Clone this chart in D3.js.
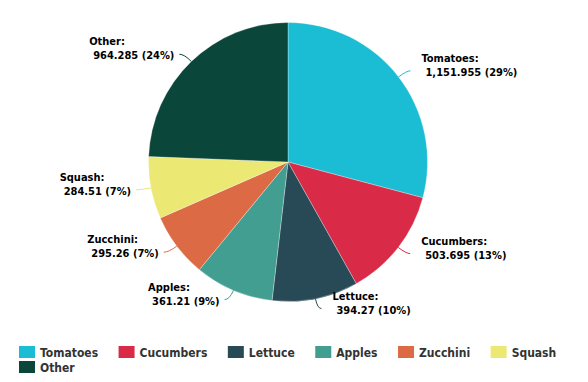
<!DOCTYPE html>
<html>
<head>
<meta charset="utf-8">
<script src="https://cdn.jsdelivr.net/npm/d3@7"></script>
<style>
  body { margin: 0; background: #fff; }
  svg { display: block; }
  text { font-family: "DejaVu Sans Condensed", "DejaVu Sans", sans-serif; font-stretch: condensed; }
</style>
</head>
<body>
<div id="chart"></div>
<script>
// DATA
const categories = ["Tomatoes", "Cucumbers", "Lettuce", "Apples", "Zucchini", "Squash", "Other"];
const values = [1151.955, 503.695, 394.27, 361.21, 295.26, 284.51, 964.285];
const labelValues = ["1,151.955", "503.695", "394.27", "361.21", "295.26", "284.51", "964.285"];
const colors = ["#1bbdd4", "#d92b48", "#284a57", "#419e91", "#db6a45", "#ebe874", "#0b463a"];

const W = 588, H = 382;
const cx = 288, cy = 162, r = 139.5;

const svg = d3.select("#chart")
    .append("svg")
    .attr("width", W)
    .attr("height", H);

const data = categories.map((c, i) => ({ name: c, value: values[i], label: labelValues[i], color: colors[i] }));
const total = d3.sum(values);

const pie = d3.pie().value(d => d.value).sort(null);
const arcs = pie(data);
const arc = d3.arc().innerRadius(0).outerRadius(r);

const g = svg.append("g").attr("transform", `translate(${cx},${cy})`);

// SLICES
g.selectAll("path.slice")
    .data(arcs)
    .enter()
    .append("path")
    .attr("class", "slice")
    .attr("d", arc)
    .attr("fill", d => d.data.color)
    .attr("stroke", "#fff")
    .attr("stroke-width", 0.5)
    .attr("stroke-opacity", 0.6);

// LABELS + CONNECTORS
const polar = (a, rad) => [Math.sin(a) * rad, -Math.cos(a) * rad];

arcs.forEach(d => {
    const mid = (d.startAngle + d.endAngle) / 2;
    const right = Math.sin(mid) >= 0;
    const p0 = polar(mid, r);
    const p1 = polar(mid, r + 10);
    const end = [p1[0] + (right ? 4 : -5), p1[1]];

    g.append("path")
        .attr("d", `M${p0[0]},${p0[1]} Q${p1[0]},${p1[1]} ${end[0]},${end[1]}`)
        .attr("fill", "none")
        .attr("stroke", d.data.color)
        .attr("stroke-width", 1);

    const pct = Math.round(d.data.value / total * 100);
    const t = g.append("text")
        .attr("font-size", "11px")
        .attr("font-weight", "bold")
        .attr("fill", "#000");
    const l1 = t.append("tspan").text(d.data.name + ":");
    const l2 = t.append("tspan").text(`${d.data.label} (${pct}%)`);

    const w1 = l1.node().getComputedTextLength();
    const w2 = l2.node().getComputedTextLength() + 4;
    const bw = Math.max(w1, w2);
    const left = right ? end[0] + 11 : end[0] - 5 - bw;

    l1.attr("x", left).attr("y", end[1] - 9);
    l2.attr("x", left + 4).attr("y", end[1] + 5);
});

// LEGEND
const legend = svg.append("g");
let lx = 19, ly = 346;
data.forEach(d => {
    const item = legend.append("g");
    const txt = item.append("text")
        .attr("font-size", "12px")
        .attr("font-weight", "bold")
        .attr("fill", "#333")
        .text(d.name);
    const tw = txt.node().getComputedTextLength();
    const iw = 21 + tw + 20.5;
    if (lx + iw - 20 > W - 15) { lx = 19; ly += 15; }
    item.attr("transform", `translate(${lx},${ly})`);
    item.insert("rect", "text")
        .attr("width", 16)
        .attr("height", 12)
        .attr("fill", d.color);
    txt.attr("x", 21).attr("y", 10.5);
    lx += iw;
});
</script>
</body>
</html>
